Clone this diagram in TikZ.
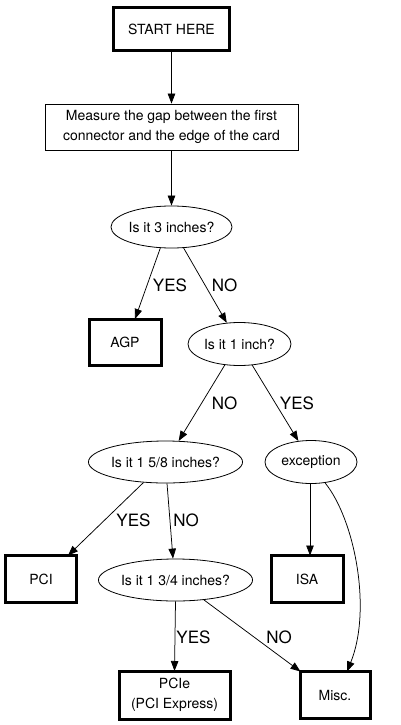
\documentclass[tikz,border=0pt]{standalone}
\usepackage{fontspec}
\setmainfont{TeX Gyre Heros}
\usetikzlibrary{shapes.geometric,arrows.meta}
\begin{document}
\begin{tikzpicture}[x=1pt,y=-1pt,
  txt/.style={font=\fontsize{14}{20}\selectfont},
  term/.style={draw, line width=3pt, rectangle, inner sep=0pt, align=center, txt},
  proc/.style={draw, line width=0.8pt, rectangle, inner sep=0pt, align=center, txt},
  ques/.style={draw, line width=0.8pt, ellipse, inner sep=0pt, txt},
  conn/.style={-{Triangle[length=10pt,width=7.5pt]}, line width=0.75pt},
  lbl/.style={font=\fontsize{17}{20}\selectfont, inner sep=0pt}
]
\fill[white] (0,0) rectangle (400,725);
\useasboundingbox (0,0) rectangle (400,725);

\node[term, minimum width=116pt, minimum height=43pt] (start) at (171.5,29) {START HERE};
\node[proc, minimum width=253pt, minimum height=46pt] (meas) at (171.5,127)
  {Measure the gap between the first\\connector and the edge of the card};
\node[ques, minimum width=120pt, minimum height=42pt] (q3) at (171.5,227) {Is it 3 inches?};
\node[term, minimum width=72pt, minimum height=46pt] (agp) at (125,342) {AGP};
\node[ques, minimum width=103pt, minimum height=43pt] (q1) at (239.5,344) {Is it 1 inch?};
\node[ques, minimum width=144pt, minimum height=42pt] (q158) at (165.5,462) {Is it 1 5/8 inches?};
\node[ques, minimum width=92pt, minimum height=43pt] (exc) at (311,462) {exception};
\node[term, minimum width=71pt, minimum height=47pt] (pci) at (41,579) {PCI};
\node[ques, minimum width=144pt, minimum height=42pt] (q134) at (175.5,580) {Is it 1 3/4 inches?};
\node[term, minimum width=72pt, minimum height=47pt] (isa) at (307,579) {ISA};
\node[term, minimum width=111pt, minimum height=48pt] (pcie) at (174.5,695) {PCIe\\(PCI Express)};
\node[term, minimum width=70pt, minimum height=47pt] (misc) at (335,695) {Misc.};

\draw[conn] (start.south) -- (meas.north);
\draw[conn] (meas.south) -- (q3.north);
\draw[conn] (q3.242) -- ([xshift=10pt,yshift=-1.5pt]agp.north);
\draw[conn] (q3.300) -- (q1.121);
\draw[conn] (q1.235) -- (q158.58);
\draw[conn] (q1.301) -- (exc.121);
\draw[conn] (q158.223) -- ([xshift=27pt,yshift=-1.5pt]pci.north);
\draw[conn] ([xshift=1.5pt]q158.south) -- ([xshift=-2.5pt]q134.north);
\draw[conn] ([xshift=-1pt]exc.south) -- ([xshift=3pt,yshift=-1.5pt]isa.north);
\draw[conn] (exc.304) .. controls (355,520) and (372,610) .. ([xshift=12pt,yshift=-1.5pt]misc.north);
\draw[conn] (q134.south) -- ([yshift=-1.5pt]pcie.north);
\draw[conn] (q134.325) -- ([xshift=2pt,yshift=-1.5pt]misc.north west);

\node[lbl] (l1) at (170,285) {YES};
\node[lbl] (l2) at (224.5,285) {NO};
\node[lbl] (l3) at (224.5,403) {NO};
\node[lbl] (l4) at (297,403) {YES};
\node[lbl] (l5) at (133.5,520) {YES};
\node[lbl] (l6) at (186,520) {NO};
\node[lbl] (l7) at (193.5,637) {YES};
\node[lbl] (l8) at (279,637) {NO};
\end{tikzpicture}
\end{document}
